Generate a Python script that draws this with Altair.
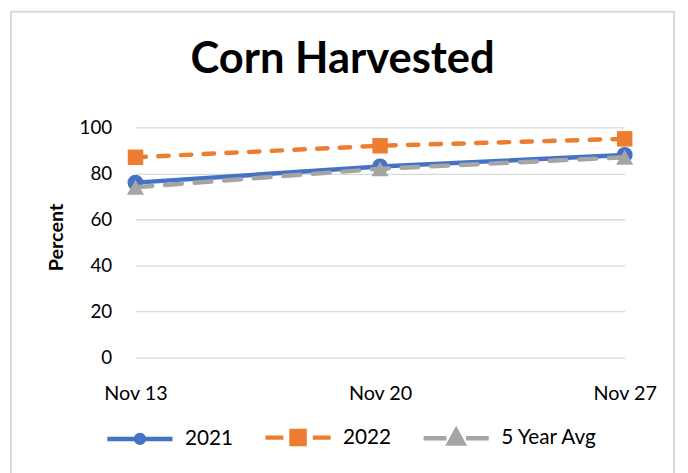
import altair as alt
import pandas as pd

weeks = ["Nov 13", "Nov 20", "Nov 27"]
series_names = ["2021", "2022", "5 Year Avg"]
values_2021 = [76, 83, 88]
values_2022 = [87, 92, 95]
values_avg = [74, 82, 87]
y_ticks = [0, 20, 40, 60, 80, 100]

colors = ["#4472C4", "#ED7D31", "#A5A5A5"]
legend_paths = [
    "M-1,0H1M-0.12,0A0.12,0.12,0,1,1,0.12,0A0.12,0.12,0,1,1,-0.12,0Z",
    "M-1,0H-0.45M0.45,0H1M-0.2,-0.2H0.2V0.2H-0.2Z",
    "M-1,0H-0.3M0.3,0H1M0,-0.24L0.22,0.16L-0.22,0.16Z",
]

rows = []
for name, vals in zip(series_names, [values_2021, values_2022, values_avg]):
    for w, v in zip(weeks, vals):
        rows.append({"Week": w, "Series": name, "Value": v})
df = pd.DataFrame(rows)

FONT = "Lato"

x_enc = alt.X(
    "Week:N",
    sort=weeks,
    scale=alt.Scale(type="point", padding=0),
    title=None,
    axis=alt.Axis(labelAngle=0, labelPadding=26, ticks=False, domain=False, grid=False,
                  labelFontSize=20, labelFont=FONT, labelColor="#000000"),
)
y_enc = alt.Y(
    "Value:Q",
    scale=alt.Scale(domain=[0, 100]),
    title="Percent",
    axis=alt.Axis(values=y_ticks, ticks=False, domain=False, grid=True, gridColor="#d9d9d9",
                  gridWidth=1.3, labelPadding=24, labelFontSize=19, labelFont=FONT,
                  labelColor="#000000", titleFont=FONT, titleFontSize=20, titleFontWeight="bold",
                  titleColor="#000000", titleX=-80, titleY=111, titleAngle=270,
                  titleAlign="center", titleBaseline="middle"),
)

dashes = [None, [10.5, 12.5], [17, 13]]
shapes = ["circle", "square", "triangle-up"]
sizes = [260, 245, 300]

layers = []
for name, col, dash, shp, sz in zip(series_names, colors, dashes, shapes, sizes):
    sub = alt.Chart(df).transform_filter(alt.datum.Series == name)
    line_kwargs = dict(color=col, strokeWidth=4.5, strokeCap="round")
    if dash is not None:
        line_kwargs["strokeDash"] = dash
    layers.append(sub.mark_line(**line_kwargs).encode(x=x_enc, y=y_enc))
    layers.append(sub.mark_point(shape=shp, filled=True, size=sz, color=col, opacity=1).encode(x=x_enc, y=y_enc))

legend_layer = alt.Chart(df).transform_filter("datum.Value < 0").mark_point(filled=True, opacity=1).encode(
    color=alt.Color("Series:N", scale=alt.Scale(domain=series_names, range=colors), legend=alt.Legend(title=None)),
    stroke=alt.Stroke("Series:N", scale=alt.Scale(domain=series_names, range=colors), legend=alt.Legend(title=None)),
    shape=alt.Shape("Series:N", scale=alt.Scale(domain=series_names, range=legend_paths), legend=alt.Legend(title=None)),
)
layers.append(legend_layer)

frame = alt.Chart(pd.DataFrame({"f": [0]})).mark_rect(fillOpacity=0, stroke="#d9d9d9", strokeWidth=2).encode(
    x=alt.value(-126), x2=alt.value(545), y=alt.value(-117), y2=alt.value(360)
)
layers.append(frame)

chart = alt.layer(*layers).properties(
    width=495,
    height=233,
    autosize=alt.AutoSizeParams(type="none"),
    padding={"left": 129, "top": 118, "right": 56, "bottom": 114},
    title=alt.TitleParams("Corn Harvested", font=FONT, fontSize=44, fontWeight="bold", color="#000000",
                          anchor="middle", frame="group", dx=-38, offset=0, baseline="alphabetic", dy=107),
).configure_view(stroke=None).configure_legend(
    orient="none", legendX=-31, legendY=278, direction="horizontal", symbolSize=4356,
    symbolStrokeWidth=4.5, labelFontSize=21, labelFont=FONT, labelColor="#000000",
    columnPadding=23, labelOffset=10, padding=0, symbolOpacity=1,
)

chart.save("out.html", embed_options={"renderer": "svg", "actions": False})
